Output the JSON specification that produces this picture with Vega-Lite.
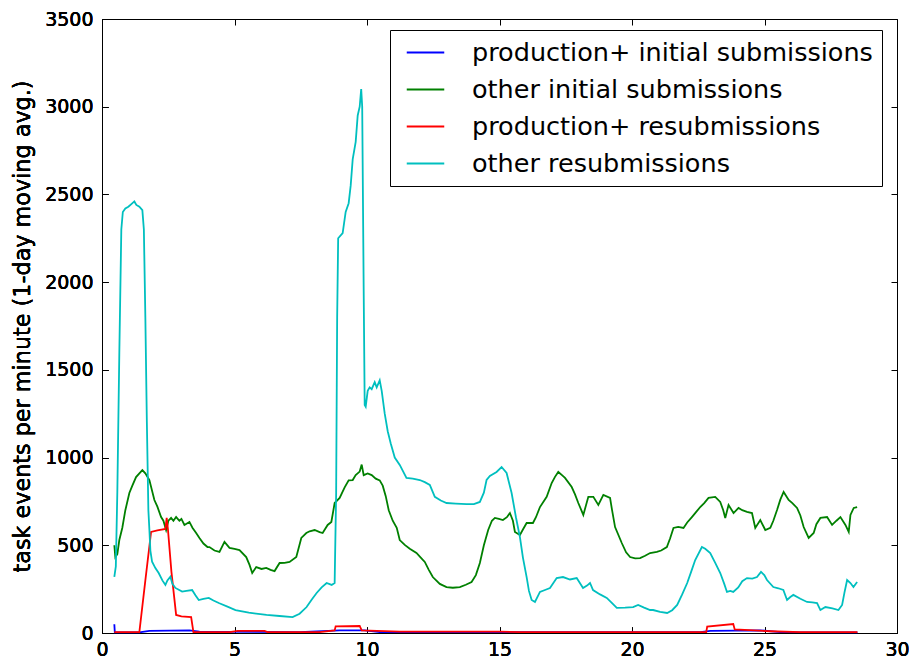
{
 "$schema": "https://vega.github.io/schema/vega-lite/v6.json",
 "width": 795, "height": 614,
 "autosize": {"type": "none"},
 "padding": {"left": 102, "top": 19, "right": 12, "bottom": 30},
 "background": "white",
 "config": {
   "font": "DejaVu Sans",
   "view": {"stroke": "black", "strokeWidth": 1},
   "axis": {"grid": false, "domain": false, "tickColor": "black", "tickWidth": 1, "tickSize": -6, "labelColor": "black", "labelFontSize": 19, "labelFlush": false, "labelOverlap": false}
 },
 "datasets": {
  "blue": [
   {"t":0.465,"v":50},{"t":0.484,"v":3},{"t":1.41,"v":3},{"t":1.788,"v":12},{"t":3.299,"v":15},{"t":3.677,"v":8},{"t":7.457,"v":5},{"t":8.968,"v":15},{"t":9.913,"v":15},{"t":10.48,"v":5},{"t":22.574,"v":5},{"t":22.952,"v":12},{"t":24.841,"v":15},{"t":25.597,"v":5},{"t":28.507,"v":3}
  ],
  "green": [
   {"t":0.465,"v":500},{"t":0.503,"v":433},{"t":0.578,"v":450},{"t":0.654,"v":530},{"t":0.767,"v":600},{"t":0.881,"v":700},{"t":1.032,"v":798},{"t":1.145,"v":840},{"t":1.285,"v":889},{"t":1.41,"v":910},{"t":1.523,"v":929},{"t":1.636,"v":910},{"t":1.788,"v":872},{"t":1.977,"v":758},{"t":2.09,"v":720},{"t":2.23,"v":661},{"t":2.317,"v":640},{"t":2.419,"v":587},{"t":2.506,"v":640},{"t":2.608,"v":656},{"t":2.695,"v":640},{"t":2.797,"v":661},{"t":2.921,"v":640},{"t":2.997,"v":650},{"t":3.11,"v":616},{"t":3.299,"v":633},{"t":3.413,"v":600},{"t":3.553,"v":570},{"t":3.677,"v":542},{"t":3.828,"v":510},{"t":3.98,"v":490},{"t":4.055,"v":490},{"t":4.244,"v":470},{"t":4.433,"v":462},{"t":4.622,"v":519},{"t":4.811,"v":485},{"t":5.0,"v":480},{"t":5.189,"v":473},{"t":5.442,"v":433},{"t":5.567,"v":388},{"t":5.669,"v":342},{"t":5.82,"v":376},{"t":6.02,"v":365},{"t":6.198,"v":371},{"t":6.361,"v":360},{"t":6.512,"v":353},{"t":6.701,"v":399},{"t":6.89,"v":400},{"t":7.079,"v":405},{"t":7.332,"v":433},{"t":7.521,"v":542},{"t":7.71,"v":570},{"t":7.835,"v":580},{"t":8.024,"v":587},{"t":8.213,"v":575},{"t":8.326,"v":570},{"t":8.515,"v":616},{"t":8.655,"v":633},{"t":8.779,"v":741},{"t":8.968,"v":770},{"t":9.157,"v":830},{"t":9.308,"v":870},{"t":9.46,"v":872},{"t":9.573,"v":900},{"t":9.724,"v":920},{"t":9.8,"v":960},{"t":9.875,"v":900},{"t":10.026,"v":910},{"t":10.177,"v":900},{"t":10.329,"v":880},{"t":10.48,"v":870},{"t":10.593,"v":840},{"t":10.707,"v":780},{"t":10.82,"v":700},{"t":10.971,"v":640},{"t":11.122,"v":600},{"t":11.236,"v":530},{"t":11.425,"v":502},{"t":11.614,"v":480},{"t":11.867,"v":456},{"t":12.029,"v":430},{"t":12.181,"v":405},{"t":12.332,"v":360},{"t":12.483,"v":319},{"t":12.748,"v":280},{"t":13.001,"v":262},{"t":13.239,"v":258},{"t":13.504,"v":262},{"t":13.73,"v":275},{"t":13.946,"v":291},{"t":14.108,"v":330},{"t":14.259,"v":399},{"t":14.41,"v":500},{"t":14.573,"v":587},{"t":14.713,"v":640},{"t":14.826,"v":656},{"t":14.977,"v":650},{"t":15.128,"v":644},{"t":15.279,"v":660},{"t":15.393,"v":684},{"t":15.506,"v":640},{"t":15.582,"v":576},{"t":15.771,"v":559},{"t":15.884,"v":590},{"t":16.024,"v":627},{"t":16.262,"v":627},{"t":16.376,"v":660},{"t":16.527,"v":718},{"t":16.78,"v":776},{"t":16.969,"v":855},{"t":17.094,"v":890},{"t":17.218,"v":918},{"t":17.358,"v":900},{"t":17.472,"v":884},{"t":17.725,"v":832},{"t":17.85,"v":790},{"t":17.974,"v":741},{"t":18.163,"v":673},{"t":18.352,"v":776},{"t":18.541,"v":776},{"t":18.73,"v":730},{"t":18.919,"v":787},{"t":19.172,"v":770},{"t":19.248,"v":700},{"t":19.361,"v":604},{"t":19.614,"v":513},{"t":19.777,"v":460},{"t":19.928,"v":433},{"t":20.117,"v":425},{"t":20.306,"v":427},{"t":20.495,"v":440},{"t":20.683,"v":456},{"t":20.937,"v":462},{"t":21.1,"v":470},{"t":21.315,"v":490},{"t":21.44,"v":540},{"t":21.565,"v":599},{"t":21.742,"v":605},{"t":21.943,"v":599},{"t":22.083,"v":630},{"t":22.26,"v":661},{"t":22.423,"v":690},{"t":22.574,"v":718},{"t":22.725,"v":740},{"t":22.888,"v":770},{"t":23.141,"v":776},{"t":23.33,"v":747},{"t":23.443,"v":700},{"t":23.519,"v":656},{"t":23.643,"v":730},{"t":23.832,"v":684},{"t":24.021,"v":713},{"t":24.161,"v":700},{"t":24.339,"v":690},{"t":24.528,"v":684},{"t":24.652,"v":599},{"t":24.841,"v":644},{"t":25.03,"v":587},{"t":25.219,"v":599},{"t":25.333,"v":640},{"t":25.473,"v":701},{"t":25.597,"v":760},{"t":25.722,"v":804},{"t":25.911,"v":758},{"t":26.051,"v":740},{"t":26.228,"v":713},{"t":26.353,"v":670},{"t":26.478,"v":604},{"t":26.667,"v":542},{"t":26.856,"v":570},{"t":26.958,"v":620},{"t":27.109,"v":656},{"t":27.362,"v":661},{"t":27.551,"v":616},{"t":27.714,"v":640},{"t":27.865,"v":661},{"t":28.054,"v":616},{"t":28.179,"v":576},{"t":28.243,"v":673},{"t":28.368,"v":713},{"t":28.495,"v":718}
  ],
  "red": [
   {"t":0.465,"v":5},{"t":1.41,"v":5},{"t":1.636,"v":300},{"t":1.852,"v":576},{"t":2.09,"v":585},{"t":2.392,"v":593},{"t":2.441,"v":656},{"t":2.487,"v":593},{"t":2.619,"v":350},{"t":2.797,"v":103},{"t":2.997,"v":95},{"t":3.364,"v":91},{"t":3.45,"v":5},{"t":4.811,"v":5},{"t":5.113,"v":12},{"t":6.134,"v":12},{"t":6.247,"v":5},{"t":8.212,"v":5},{"t":8.779,"v":15},{"t":8.817,"v":38},{"t":9.724,"v":40},{"t":9.8,"v":15},{"t":11.236,"v":8},{"t":15.015,"v":8},{"t":15.771,"v":5},{"t":18.795,"v":5},{"t":22.801,"v":5},{"t":22.838,"v":36},{"t":23.821,"v":51},{"t":23.877,"v":20},{"t":25.219,"v":10},{"t":26.353,"v":5},{"t":28.507,"v":5}
  ],
  "cyan": [
   {"t":0.465,"v":320},{"t":0.522,"v":380},{"t":0.578,"v":800},{"t":0.654,"v":1600},{"t":0.729,"v":2300},{"t":0.786,"v":2400},{"t":0.881,"v":2420},{"t":0.994,"v":2430},{"t":1.107,"v":2445},{"t":1.221,"v":2460},{"t":1.296,"v":2440},{"t":1.41,"v":2430},{"t":1.523,"v":2410},{"t":1.58,"v":2300},{"t":1.636,"v":1800},{"t":1.693,"v":1200},{"t":1.75,"v":700},{"t":1.788,"v":590},{"t":1.825,"v":470},{"t":1.89,"v":406},{"t":2.014,"v":370},{"t":2.139,"v":342},{"t":2.279,"v":300},{"t":2.392,"v":274},{"t":2.468,"v":300},{"t":2.581,"v":321},{"t":2.657,"v":280},{"t":2.77,"v":257},{"t":3.023,"v":236},{"t":3.186,"v":240},{"t":3.401,"v":245},{"t":3.526,"v":215},{"t":3.651,"v":188},{"t":3.828,"v":195},{"t":4.029,"v":200},{"t":4.206,"v":185},{"t":4.407,"v":171},{"t":4.735,"v":150},{"t":5.038,"v":131},{"t":5.54,"v":116},{"t":6.209,"v":103},{"t":6.701,"v":97},{"t":7.192,"v":91},{"t":7.457,"v":110},{"t":7.721,"v":148},{"t":7.91,"v":190},{"t":8.099,"v":228},{"t":8.288,"v":260},{"t":8.477,"v":285},{"t":8.666,"v":274},{"t":8.779,"v":285},{"t":8.836,"v":800},{"t":8.874,"v":1800},{"t":8.912,"v":2250},{"t":9.082,"v":2280},{"t":9.195,"v":2400},{"t":9.308,"v":2450},{"t":9.384,"v":2550},{"t":9.46,"v":2700},{"t":9.573,"v":2800},{"t":9.649,"v":2950},{"t":9.724,"v":3000},{"t":9.781,"v":3100},{"t":9.819,"v":3000},{"t":9.875,"v":1950},{"t":9.913,"v":1300},{"t":9.951,"v":1290},{"t":10.026,"v":1380},{"t":10.102,"v":1400},{"t":10.177,"v":1390},{"t":10.291,"v":1430},{"t":10.366,"v":1400},{"t":10.48,"v":1440},{"t":10.555,"v":1380},{"t":10.669,"v":1250},{"t":10.782,"v":1150},{"t":10.896,"v":1080},{"t":11.047,"v":1000},{"t":11.236,"v":958},{"t":11.489,"v":884},{"t":11.727,"v":880},{"t":11.992,"v":872},{"t":12.181,"v":860},{"t":12.37,"v":844},{"t":12.559,"v":776},{"t":12.785,"v":755},{"t":13.001,"v":741},{"t":13.352,"v":738},{"t":13.757,"v":735},{"t":14.033,"v":735},{"t":14.259,"v":747},{"t":14.41,"v":800},{"t":14.512,"v":872},{"t":14.637,"v":895},{"t":14.89,"v":918},{"t":15.079,"v":946},{"t":15.268,"v":912},{"t":15.457,"v":798},{"t":15.62,"v":660},{"t":15.771,"v":547},{"t":15.884,"v":430},{"t":16.024,"v":319},{"t":16.111,"v":240},{"t":16.213,"v":188},{"t":16.338,"v":177},{"t":16.527,"v":234},{"t":16.716,"v":245},{"t":16.905,"v":256},{"t":17.158,"v":313},{"t":17.396,"v":319},{"t":17.661,"v":305},{"t":17.914,"v":313},{"t":18.152,"v":256},{"t":18.303,"v":270},{"t":18.416,"v":285},{"t":18.53,"v":245},{"t":18.795,"v":220},{"t":19.048,"v":200},{"t":19.248,"v":170},{"t":19.426,"v":143},{"t":19.739,"v":145},{"t":20.042,"v":148},{"t":20.231,"v":160},{"t":20.457,"v":145},{"t":20.683,"v":131},{"t":20.797,"v":131},{"t":21.062,"v":120},{"t":21.327,"v":114},{"t":21.516,"v":130},{"t":21.705,"v":160},{"t":21.894,"v":220},{"t":22.083,"v":285},{"t":22.234,"v":350},{"t":22.385,"v":416},{"t":22.638,"v":490},{"t":22.763,"v":480},{"t":22.952,"v":456},{"t":23.141,"v":400},{"t":23.33,"v":342},{"t":23.481,"v":280},{"t":23.583,"v":234},{"t":23.708,"v":240},{"t":23.821,"v":234},{"t":24.01,"v":260},{"t":24.161,"v":295},{"t":24.339,"v":313},{"t":24.539,"v":310},{"t":24.717,"v":319},{"t":24.868,"v":348},{"t":24.993,"v":330},{"t":25.094,"v":302},{"t":25.333,"v":262},{"t":25.522,"v":255},{"t":25.711,"v":245},{"t":25.851,"v":188},{"t":25.975,"v":205},{"t":26.089,"v":217},{"t":26.353,"v":195},{"t":26.606,"v":177},{"t":26.807,"v":175},{"t":26.984,"v":171},{"t":27.109,"v":131},{"t":27.298,"v":148},{"t":27.563,"v":140},{"t":27.79,"v":131},{"t":27.929,"v":160},{"t":28.017,"v":230},{"t":28.118,"v":302},{"t":28.243,"v":285},{"t":28.356,"v":262},{"t":28.495,"v":291}
  ]
 },
 "encoding": {
   "x": {"field": "t", "type": "quantitative", "scale": {"domain": [0, 30], "nice": false, "zero": false}, "axis": {"orient": "bottom", "values": [0, 5, 10, 15, 20, 25, 30], "title": null, "labelPadding": 13, "format": "d"}},
   "y": {"field": "v", "type": "quantitative", "scale": {"domain": [0, 3500], "nice": false}, "axis": {"orient": "left", "values": [0, 500, 1000, 1500, 2000, 2500, 3000, 3500], "format": "d", "title": "task events per minute (1-day moving avg.)", "titleFontSize": 22.3, "titleFontWeight": "normal", "titleColor": "black", "titlePadding": 10, "labelPadding": 15}}
 },
 "layer": [
   {"data": {"name": "blue"}, "mark": {"type": "line", "strokeWidth": 1.8},
    "encoding": {"color": {"datum": "production+ initial submissions", "type": "nominal",
      "scale": {"domain": ["production+ initial submissions", "other initial submissions", "production+ resubmissions", "other resubmissions"], "range": ["#0000ff", "#008000", "#ff0000", "#00bfbf"]},
      "legend": {"orient": "none", "legendX": 288, "legendY": 11, "title": null, "symbolType": "M-1.5,0H1.5", "symbolSize": 625, "symbolStrokeWidth": 2, "labelFontSize": 25.5, "labelColor": "black", "labelOffset": 33, "symbolOffset": 13, "rowPadding": 10, "padding": 9, "strokeColor": "black", "fillColor": "white", "cornerRadius": 0, "labelLimit": 600}}}},
   {"data": {"name": "green"}, "mark": {"type": "line", "strokeWidth": 1.8},
    "encoding": {"color": {"datum": "other initial submissions", "type": "nominal"}}},
   {"data": {"name": "red"}, "mark": {"type": "line", "strokeWidth": 1.8},
    "encoding": {"color": {"datum": "production+ resubmissions", "type": "nominal"}}},
   {"data": {"name": "cyan"}, "mark": {"type": "line", "strokeWidth": 1.8},
    "encoding": {"color": {"datum": "other resubmissions", "type": "nominal"}}},
   {"data": {"values": [{"t": 0, "v": 0}]}, "mark": {"type": "point", "opacity": 0},
    "encoding": {
      "x": {"field": "t", "type": "quantitative", "scale": {"domain": [0, 30], "nice": false, "zero": false}, "axis": {"orient": "top", "values": [0, 5, 10, 15, 20, 25, 30], "title": null, "labels": false}},
      "y": {"field": "v", "type": "quantitative", "scale": {"domain": [0, 3500], "nice": false}, "axis": {"orient": "right", "values": [0, 500, 1000, 1500, 2000, 2500, 3000, 3500], "title": null, "labels": false}}
    }}
 ]
}
